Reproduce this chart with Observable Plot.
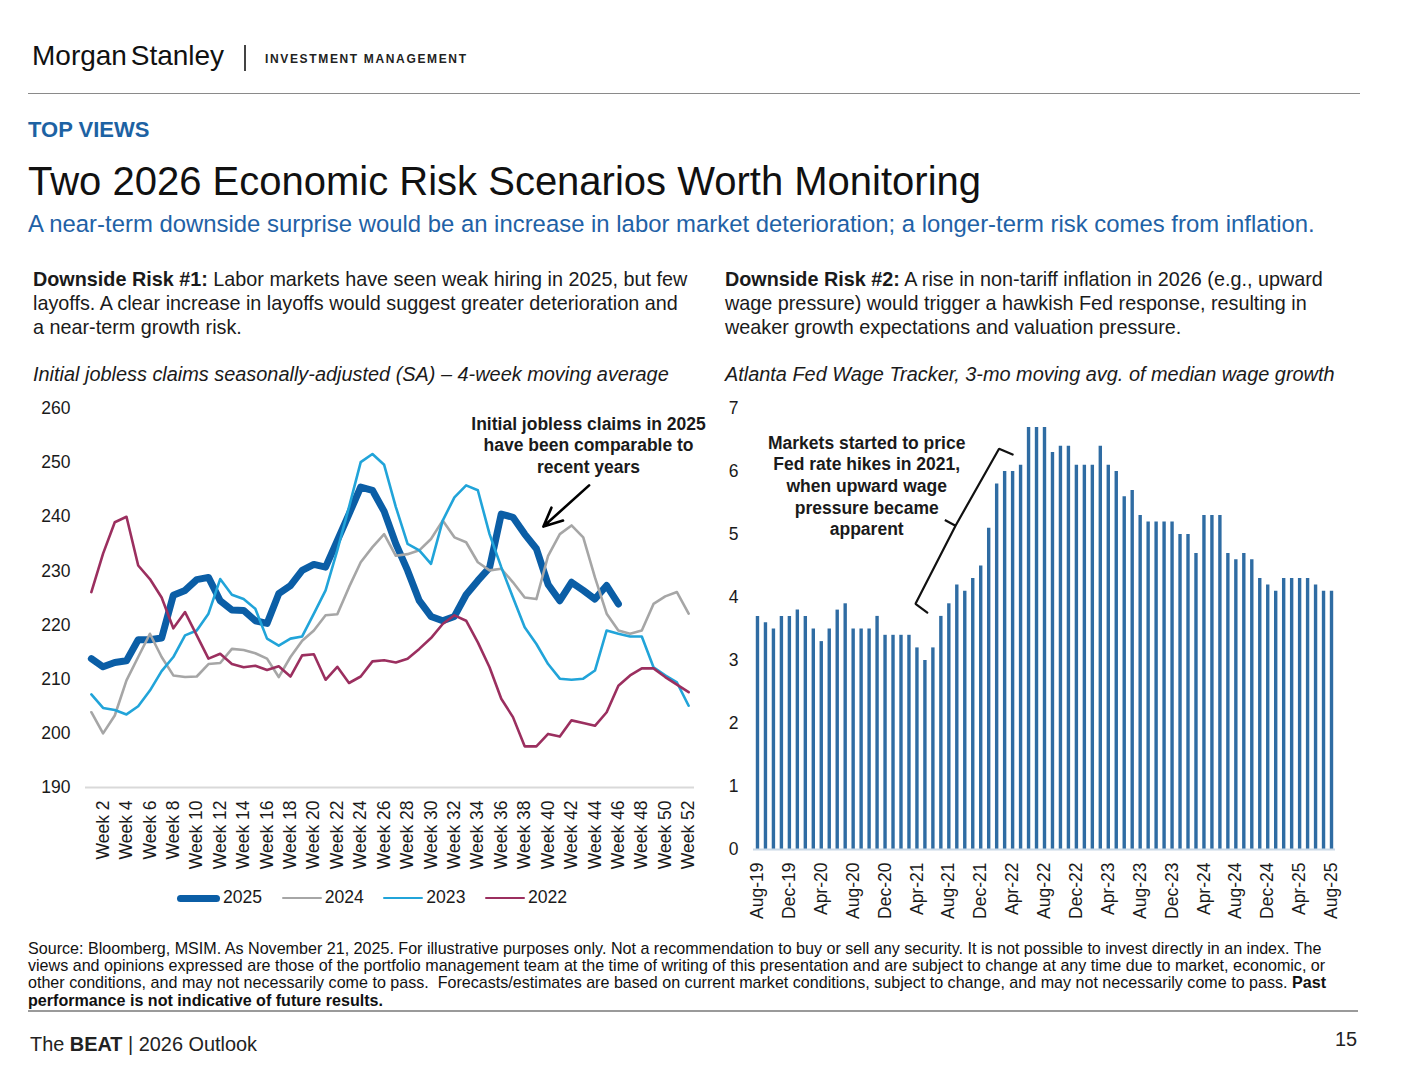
<!DOCTYPE html>
<html><head><meta charset="utf-8">
<script src="https://cdn.jsdelivr.net/npm/d3@7"></script>
<script src="https://cdn.jsdelivr.net/npm/@observablehq/plot@0.6"></script>
<style>
html,body{margin:0;background:#fff}
body{width:1414px;height:1080px;position:relative;overflow:hidden;font-family:"Liberation Sans",Arial,sans-serif;color:#1a1a1a}
.abs{position:absolute;white-space:nowrap;line-height:1}
.para{font-size:19.8px;line-height:24px}
.ital{font-size:19.9px;font-style:italic}
.leg{display:flex;align-items:center;font-size:17.6px}
.leg span.sw{display:inline-block;margin-right:3px}
.leg span.tx{margin-right:19.5px}
svg{overflow:visible}
</style></head><body>
<div class="abs" style="left:32px;top:42px;font-size:28px;word-spacing:-4px;color:#111">Morgan Stanley</div>
<div class="abs" style="left:244px;top:45px;width:1.5px;height:26px;background:#444"></div>
<div class="abs" style="left:265px;top:52.8px;font-size:12px;font-weight:bold;letter-spacing:1.65px;color:#222">INVESTMENT MANAGEMENT</div>
<div class="abs" style="left:28px;top:93px;width:1332px;height:1px;background:#8a8a8a"></div>
<div class="abs" style="left:28px;top:119px;font-size:22px;font-weight:bold;color:#1d62a3">TOP VIEWS</div>
<div class="abs" style="left:28px;top:161px;font-size:40px;color:#111">Two 2026 Economic Risk Scenarios Worth Monitoring</div>
<div class="abs" style="left:28px;top:212.3px;font-size:23.9px;color:#1f62a6">A near-term downside surprise would be an increase in labor market deterioration; a longer-term risk comes from inflation.</div>
<div class="abs para" style="left:33px;top:267.2px"><b>Downside Risk #1:</b> Labor markets have seen weak hiring in 2025, but few<br>layoffs. A clear increase in layoffs would suggest greater deterioration and<br>a near-term growth risk.</div>
<div class="abs para" style="left:725px;top:267.2px"><b>Downside Risk #2:</b> A rise in non-tariff inflation in 2026 (e.g., upward<br>wage pressure) would trigger a hawkish Fed response, resulting in<br>weaker growth expectations and valuation pressure.</div>
<div class="abs ital" style="left:33px;top:365.2px">Initial jobless claims seasonally-adjusted (SA) – 4-week moving average</div>
<div class="abs ital" style="left:725px;top:365.2px">Atlanta Fed Wage Tracker, 3-mo moving avg. of median wage growth</div>
<div id="left" class="abs" style="left:20px;top:395px"></div>
<div id="right" class="abs" style="left:715px;top:395px"></div>
<div id="legend" class="abs leg" style="left:177px;top:888px;height:20px"></div>
<div class="abs" style="left:28px;top:939.5px;font-size:16.1px;line-height:17.4px;color:#111">Source: Bloomberg, MSIM. As November 21, 2025. For illustrative purposes only. Not a recommendation to buy or sell any security. It is not possible to invest directly in an index. The<br>views and opinions expressed are those of the portfolio management team at the time of writing of this presentation and are subject to change at any time due to market, economic, or<br>other conditions, and may not necessarily come to pass.&nbsp; Forecasts/estimates are based on current market conditions, subject to change, and may not necessarily come to pass. <b>Past</b><br><b>performance is not indicative of future results.</b></div>
<div class="abs" style="left:28px;top:1010px;width:1330px;height:1.5px;background:#9a9a9a"></div>
<div class="abs" style="left:30px;top:1035.3px;font-size:19.9px;color:#222">The <b>BEAT</b> | 2026 Outlook</div>
<div class="abs" style="right:57px;top:1030.3px;font-size:19.9px;color:#222">15</div>
<script>
// ---------- Left chart data: initial jobless claims (thousands), 4-week MA ----------
const weeks = d3.range(1, 53);
const seriesNames = ["2025", "2024", "2023", "2022"];
const claims2025 = [213.8,212.3,213.1,213.4,217.3,217.3,217.6,225.5,226.4,228.4,228.8,224.5,222.8,222.7,220.8,220.3,225.8,227.3,230.1,231.2,230.7,235.6,240.5,245.5,244.9,241.0,235.0,230.1,224.5,221.6,220.8,221.6,225.6,228.2,230.6,240.5,239.9,236.8,234.1,227.5,224.5,227.9,226.4,224.8,227.3,223.9];
const claims2024 = [203.9,200.0,203.3,209.8,214.1,218.4,214.1,210.7,210.4,210.5,212.8,213.0,215.6,215.4,214.8,213.8,210.4,214.1,217.1,219.0,221.8,222.0,227.0,231.6,234.4,236.8,232.8,233.1,233.8,235.9,239.3,236.2,235.3,231.6,230.1,230.4,227.9,225.1,224.8,232.8,236.8,238.4,236.2,228.8,222.1,219.0,218.4,219.0,223.9,225.3,226.1,222.1];
const claims2023 = [207.2,204.7,204.3,203.5,205.0,207.9,211.5,214.1,218.1,219.0,222.1,228.5,225.6,224.8,223.0,217.5,216.2,217.5,217.9,222.1,226.4,233.8,241.8,250.1,251.6,249.6,241.8,235.0,233.8,231.3,239.3,243.6,245.8,244.9,236.8,230.7,225.1,219.6,216.5,212.8,210.1,209.9,210.1,211.6,219.0,218.4,217.9,217.9,212.2,210.7,209.4,205.1];
const claims2022 = [226.1,233.2,239.0,240.0,231.0,228.5,225.1,219.4,222.4,218.1,213.8,214.7,212.8,212.2,212.5,211.7,212.4,210.5,214.4,214.6,209.9,212.3,209.3,210.5,213.3,213.5,213.1,213.8,215.6,217.6,220.2,221.8,220.8,216.8,212.2,206.4,203.0,197.6,197.6,199.9,199.4,202.4,201.9,201.4,203.9,208.8,210.7,212.0,212.0,210.4,209.0,207.6];
const seriesValues = [claims2025, claims2024, claims2023, claims2022];
const seriesColors = ["#0b5ea6", "#a6a6a6", "#21a4d9", "#9b2f5f"];
const seriesWidths = [7, 2.6, 2.6, 2.6];
const claimsTicks = [190, 200, 210, 220, 230, 240, 250, 260];
const weekTicks = d3.range(2, 53, 2);
const leftNote = [{week: 43.45, value: 258.9, text: "Initial jobless claims in 2025\nhave been comparable to\nrecent years"}];
const leftArrow = [{w1: 43.5, v1: 245.8, w2: 39.6, v2: 238.2}];

// ---------- Right chart data: Atlanta Fed wage tracker, Aug-19 .. Aug-25 ----------
const wageGrowth = [3.7,3.6,3.5,3.7,3.7,3.8,3.7,3.5,3.3,3.5,3.8,3.9,3.5,3.5,3.5,3.7,3.4,3.4,3.4,3.4,3.2,3.0,3.2,3.7,3.9,4.2,4.1,4.3,4.5,5.1,5.8,6.0,6.0,6.1,6.7,6.7,
                    6.7,6.3,6.4,6.4,6.1,6.1,6.1,6.4,6.1,6.0,5.6,5.7,5.3,5.2,5.2,5.2,5.2,5.0,5.0,4.7,5.3,5.3,5.3,4.7,4.6,4.7,4.6,4.3,4.2,4.1,4.3,4.3,4.3,4.3,4.2,4.1,4.1];
const wageTickLabels = ["Aug-19","Dec-19","Apr-20","Aug-20","Dec-20","Apr-21","Aug-21","Dec-21","Apr-22","Aug-22","Dec-22","Apr-23","Aug-23","Dec-23","Apr-24","Aug-24","Dec-24","Apr-25","Aug-25"];
const wageTicks = [0, 1, 2, 3, 4, 5, 6, 7];
const rightNote = [{i: 13.7, v: 6.6, text: "Markets started to price\nFed rate hikes in 2021,\nwhen upward wage\npressure became\napparent"}];
const bracket = [{i: 32.0, v: 6.27}, {i: 30.3, v: 6.36}, {i: 24.84, v: 5.14}, {i: 23.5, v: 5.23}, {i: 24.84, v: 5.14}, {i: 19.82, v: 3.90}, {i: 21.3, v: 3.76}];

const FONT = "'Liberation Sans', Arial, sans-serif";

// ---------- Left chart ----------
const rows = seriesNames.flatMap((name, k) => seriesValues[k].map((v, j) => ({year: name, week: weeks[j], value: v})));
const left = Plot.plot({
  width: 690, height: 480,
  marginLeft: 65, marginRight: 16, marginTop: 13, marginBottom: 88,
  style: {fontFamily: FONT, fontSize: "17.5px", color: "#1a1a1a", background: "none", overflow: "visible"},
  x: {domain: [0.5, 52.5], ticks: weekTicks, tickFormat: d => "Week " + d, tickRotate: -90, tickSize: 0, tickPadding: 13, label: null},
  y: {domain: [190, 260], ticks: claimsTicks, tickSize: 0, tickPadding: 15, label: null},
  marks: [
    Plot.ruleY([190], {stroke: "#d9d9d9", strokeWidth: 2}),
    ...seriesNames.map((name, k) => Plot.line(rows.filter(r => r.year === name), {
      x: "week", y: "value", stroke: seriesColors[k], strokeWidth: seriesWidths[k],
      strokeLinejoin: "round", strokeLinecap: "round"
    })),
    Plot.arrow(leftArrow, {x1: "w1", y1: "v1", x2: "w2", y2: "v2", stroke: "#000", strokeWidth: 2.6, headLength: 14, headAngle: 50}),
    Plot.text(leftNote, {x: "week", y: "value", text: "text", lineAnchor: "top", lineHeight: 1.23, fontSize: 17.5, fontWeight: "bold", fill: "#1a1a1a", textAnchor: "middle"})
  ]
});
document.getElementById("left").appendChild(left);

// ---------- Right chart ----------
const wage = wageGrowth.map((v, i) => ({i, v}));
const right = Plot.plot({
  width: 630, height: 533,
  marginLeft: 38, marginRight: 10, marginTop: 13, marginBottom: 79,
  style: {fontFamily: FONT, fontSize: "17.5px", color: "#1a1a1a", background: "none", overflow: "visible"},
  x: {domain: [-0.5, 72.5], ticks: d3.range(0, 73, 4), tickFormat: d => wageTickLabels[d / 4], tickRotate: -90, tickSize: 0, tickPadding: 13, label: null},
  y: {domain: [0, 7], ticks: wageTicks, tickFormat: d => String(d), tickSize: 0, tickPadding: 15, label: null},
  marks: [
    Plot.ruleX(wage, {x: "i", y1: 0, y2: "v", stroke: "#2f6ca3", strokeWidth: 3.4}),
    Plot.ruleY([0], {stroke: "#c9d8e6", strokeWidth: 2}),
    Plot.line(bracket, {x: "i", y: "v", stroke: "#111", strokeWidth: 2.2, strokeLinejoin: "miter"}),
    Plot.text(rightNote, {x: "i", y: "v", text: "text", lineAnchor: "top", lineHeight: 1.23, fontSize: 17.5, fontWeight: "bold", fill: "#1a1a1a", textAnchor: "middle"})
  ]
});
document.getElementById("right").appendChild(right);

// ---------- Legend ----------
const swLens = [43, 40, 40, 40];
const legend = document.getElementById("legend");
seriesNames.forEach((name, k) => {
  const sw = document.createElement("span");
  sw.className = "sw";
  sw.style.width = swLens[k] + "px";
  sw.style.height = seriesWidths[k] + "px";
  sw.style.background = seriesColors[k];
  sw.style.borderRadius = seriesWidths[k] + "px";
  const tx = document.createElement("span");
  tx.className = "tx";
  tx.textContent = name;
  legend.appendChild(sw);
  legend.appendChild(tx);
});
</script>
</body></html>
